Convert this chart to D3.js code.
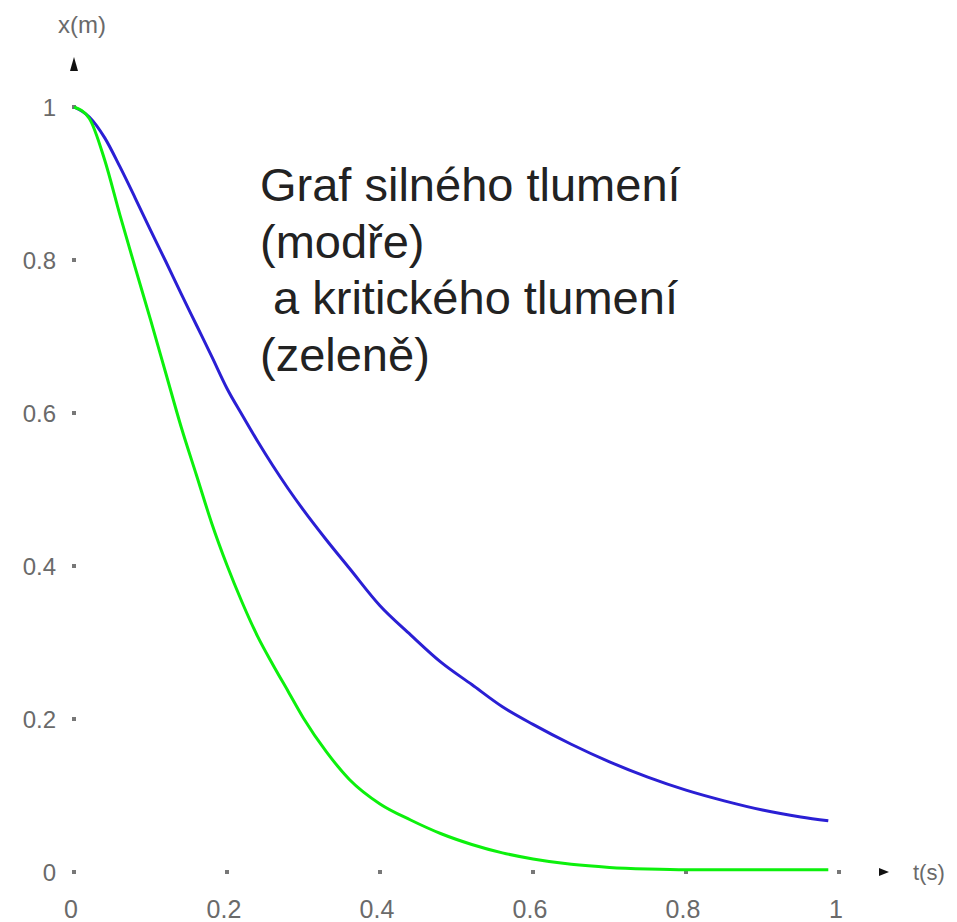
<!DOCTYPE html>
<html>
<head>
<meta charset="utf-8">
<script src="https://cdn.jsdelivr.net/npm/d3@7/dist/d3.min.js"></script>
<style>
  html, body { margin: 0; padding: 0; background: #fff; }
  svg { display: block; }
</style>
</head>
<body>
<svg id="chart" width="957" height="922"></svg>
<script>
// ---- data ----
const xTicks = [0, 0.2, 0.4, 0.6, 0.8, 1];
const xTickLabels = ["0", "0.2", "0.4", "0.6", "0.8", "1"];
const yTicks = [0, 0.2, 0.4, 0.6, 0.8, 1];
const yTickLabels = ["0", "0.2", "0.4", "0.6", "0.8", "1"];
const xAxisTitle = "t(s)";
const yAxisTitle = "x(m)";
const annotationLines = ["Graf silného tlumení", "(modře)", " a kritického tlumení", "(zeleně)"];

// strong (over-) damping, blue
const blueT = [0, 0.02, 0.04, 0.06, 0.08, 0.10, 0.12, 0.14, 0.16, 0.18, 0.20, 0.22, 0.24, 0.26, 0.28, 0.30, 0.33, 0.36, 0.40, 0.44, 0.48, 0.52, 0.56, 0.60, 0.65, 0.70, 0.75, 0.80, 0.85, 0.90, 0.95, 0.986];
const blueV = [1.000, 0.987, 0.960, 0.922, 0.881, 0.839, 0.798, 0.756, 0.715, 0.674, 0.632, 0.597, 0.563, 0.531, 0.501, 0.473, 0.434, 0.397, 0.348, 0.310, 0.274, 0.245, 0.216, 0.193, 0.167, 0.144, 0.124, 0.107, 0.093, 0.081, 0.072, 0.067];

// critical damping, green
const greenT = [0, 0.02, 0.04, 0.06, 0.08, 0.10, 0.12, 0.14, 0.16, 0.18, 0.20, 0.22, 0.24, 0.26, 0.28, 0.30, 0.33, 0.36, 0.40, 0.44, 0.48, 0.52, 0.56, 0.60, 0.65, 0.70, 0.75, 0.80, 0.90, 0.986];
const greenV = [1.000, 0.985, 0.931, 0.859, 0.790, 0.722, 0.652, 0.582, 0.519, 0.456, 0.401, 0.352, 0.308, 0.271, 0.236, 0.201, 0.157, 0.121, 0.089, 0.068, 0.050, 0.036, 0.025, 0.017, 0.010, 0.006, 0.004, 0.003, 0.003, 0.003];

// ---- drawing ----
const svg = d3.select("#chart");
const x = d3.scaleLinear().domain([0, 1]).range([74, 839]);
const y = d3.scaleLinear().domain([0, 1]).range([872, 107]);

const tickColor = "#6a6a6a";
const font = "'Liberation Sans', Arial, sans-serif";

// tick dots
svg.append("g").selectAll("rect").data(xTicks).join("rect")
  .attr("x", d => x(d) - 2).attr("y", y(0) - 2)
  .attr("width", 4).attr("height", 4).attr("fill", "#777");
svg.append("g").selectAll("rect").data(yTicks).join("rect")
  .attr("x", x(0) - 2).attr("y", d => y(d) - 2)
  .attr("width", 4).attr("height", 4).attr("fill", "#777");

// x tick labels
svg.append("g").selectAll("text").data(xTicks).join("text")
  .attr("x", d => x(d) - 3).attr("y", 918)
  .attr("text-anchor", "middle")
  .attr("font-family", font).attr("font-size", 25)
  .attr("fill", tickColor)
  .text((d, i) => xTickLabels[i]);

// y tick labels
svg.append("g").selectAll("text").data(yTicks).join("text")
  .attr("x", 56).attr("y", d => y(d))
  .attr("dy", "0.36em")
  .attr("text-anchor", "end")
  .attr("font-family", font).attr("font-size", 24)
  .attr("fill", tickColor)
  .text((d, i) => yTickLabels[i]);

// axis arrows
svg.append("path")
  .attr("d", `M${x(0)},57 L${x(0) + 4},71 L${x(0) - 4},71 Z`)
  .attr("fill", "#111");
svg.append("path")
  .attr("d", `M889,${y(0)} L879,${y(0) - 4} L879,${y(0) + 4} Z`)
  .attr("fill", "#111");

// axis titles
svg.append("text")
  .attr("x", 82).attr("y", 33)
  .attr("text-anchor", "middle")
  .attr("font-family", font).attr("font-size", 24)
  .attr("fill", tickColor)
  .text(yAxisTitle);
svg.append("text")
  .attr("x", 913).attr("y", y(0))
  .attr("dy", "0.36em")
  .attr("font-family", font).attr("font-size", 22)
  .attr("fill", tickColor)
  .text(xAxisTitle);

// curves
const line = d3.line()
  .x(d => x(d[0]))
  .y(d => y(d[1]))
  .curve(d3.curveMonotoneX);

const blueData = blueT.map((t, i) => [t, blueV[i]]);
const greenData = greenT.map((t, i) => [t, greenV[i]]);

svg.append("path")
  .datum(blueData)
  .attr("d", line)
  .attr("fill", "none")
  .attr("stroke", "#2a1fd4")
  .attr("stroke-width", 3);

svg.append("path")
  .datum(greenData)
  .attr("d", line)
  .attr("fill", "none")
  .attr("stroke", "#0cf00c")
  .attr("stroke-width", 3);

// annotation
svg.append("g").selectAll("text").data(annotationLines).join("text")
  .attr("x", 260)
  .attr("y", (d, i) => 201 + i * 56.7)
  .attr("font-family", font).attr("font-size", 47)
  .attr("fill", "#222")
  .style("white-space", "pre")
  .text(d => d);
</script>
</body>
</html>
